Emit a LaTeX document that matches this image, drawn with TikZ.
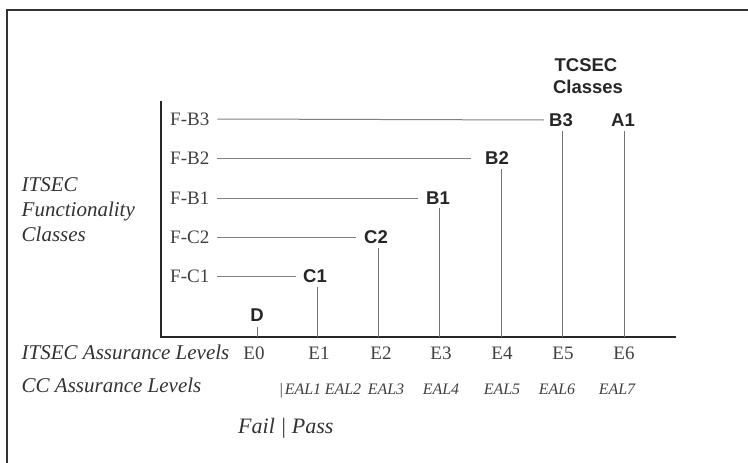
\documentclass[tikz,border=0pt]{standalone}
\usepackage{fontspec}
\setmainfont{Liberation Serif}
\setsansfont{Liberation Sans}
\begin{document}
\begin{tikzpicture}[x=1pt,y=-1pt,
  frame/.style={line width=2.5pt, draw=black!80},
  axis/.style={line width=2.2pt, draw=black!85, line cap=rect},
  hline/.style={line width=1pt, draw=black!50},
  vline/.style={line width=0.9pt, draw=black!55},
  cls/.style={font=\sffamily\bfseries\fontsize{18.5}{20}\selectfont, text=black!85, inner sep=0pt, text height=13.2pt, text depth=0pt},
  fcl/.style={font=\fontsize{19}{20}\selectfont, text=black!75, inner sep=0pt, text height=12.5pt, text depth=0pt},
  itl/.style={font=\itshape\fontsize{21}{22}\selectfont, text=black!80, inner sep=0pt, text height=13.9pt, text depth=0pt},
  eal/.style={font=\itshape\fontsize{16}{17}\selectfont, text=black!75, inner sep=0pt, text height=10.6pt, text depth=0pt},
  fp/.style={font=\itshape\fontsize{22}{23}\selectfont, text=black!80, inner sep=0pt, text height=14.5pt, text depth=0pt}
]
\useasboundingbox (0,0) rectangle (748,463);
\fill[white] (0,0) rectangle (748,463);
% frame
\draw[frame] (7,463) -- (7,10) -- (748,10);

% axes
\coordinate (ytop) at (161,102);
\coordinate (O) at (161,337);
\coordinate (xend) at (675,337);
\draw[axis] (ytop) -- (O) -- (xend);

% tick positions
\coordinate (t0) at (257,337);
\coordinate (t1) at (317,337);
\coordinate (t2) at (378,337);
\coordinate (t3) at (439,337);
\coordinate (t4) at (501,337);
\coordinate (t5) at (562,337);
\coordinate (t6) at (624.5,337);

% TCSEC header
\node[cls] (tcsec) at (586,65) {TCSEC};
\node[cls] (tclasses) at (588,87) {Classes};

% ITSEC functionality
\node[itl, anchor=west] (itsec) at (21.5,185) {ITSEC};
\node[itl, anchor=west] (func) at (21.5,210) {Functionality};
\node[itl, anchor=west] (fclasses) at (21.5,235) {Classes};

% row labels
\node[fcl, anchor=west] (fb3) at (170,119) {F-B3};
\node[fcl, anchor=west] (fb2) at (170,158) {F-B2};
\node[fcl, anchor=west] (fb1) at (170,198) {F-B1};
\node[fcl, anchor=west] (fc2) at (170,237) {F-C2};
\node[fcl, anchor=west] (fc1) at (170,276) {F-C1};

% TCSEC classes
\node[cls] (b3) at (561,120) {B3};
\node[cls] (a1) at (623,120) {A1};
\node[cls] (b2) at (497,158) {B2};
\node[cls] (b1) at (438,198) {B1};
\node[cls] (c2) at (376,237) {C2};
\node[cls] (c1) at (315,276) {C1};
\node[cls] (d) at (257,315) {D};

% horizontal lines
\draw[hline] ([xshift=8pt]fb3.east) -- ([xshift=-5pt]b3.west);
\draw[hline] ([xshift=8pt]fb2.east) -- ([xshift=-14pt]b2.west);
\draw[hline] ([xshift=8pt]fb1.east) -- ([xshift=-8pt]b1.west);
\draw[hline] ([xshift=8pt]fc2.east) -- ([xshift=-8pt]c2.west);
\draw[hline] ([xshift=8pt]fc1.east) -- ([xshift=-7pt]c1.west);

% vertical lines
\draw[vline, shorten <=4pt] (t5 |- b3.south) -- (t5);
\draw[vline, shorten <=4pt] (t6 |- a1.south) -- (t6);
\draw[vline, shorten <=4pt] (t4 |- b2.south) -- (t4);
\draw[vline, shorten <=3pt] (t3 |- b1.south) -- (t3);
\draw[vline, shorten <=4pt] (t2 |- c2.south) -- (t2);
\draw[vline, shorten <=4pt] (t1 |- c1.south) -- (t1);
\draw[vline, shorten <=5pt] (t0 |- d.south) -- (t0);

% ITSEC assurance levels
\node[itl, anchor=west] (ial) at (21.5,353) {ITSEC Assurance Levels};
\node[fcl] (e0) at (254,353) {E0};
\node[fcl] (e1) at (319,353) {E1};
\node[fcl] (e2) at (381,353) {E2};
\node[fcl] (e3) at (441,353) {E3};
\node[fcl] (e4) at (502,353) {E4};
\node[fcl] (e5) at (563,353) {E5};
\node[fcl] (e6) at (624,353) {E6};

% CC assurance levels
\node[itl, anchor=west] (ccl) at (21.5,386) {CC Assurance Levels};
\node[eal] (bar) at (281,389) {|};
\node[eal] (eal1) at (303,389) {EAL1};
\node[eal] (eal2) at (343,389) {EAL2};
\node[eal] (eal3) at (386,389) {EAL3};
\node[eal] (eal4) at (441,389) {EAL4};
\node[eal] (eal5) at (502,389) {EAL5};
\node[eal] (eal6) at (557,389) {EAL6};
\node[eal] (eal7) at (617,389) {EAL7};

% Fail | Pass
\node[fp, anchor=west] (failpass) at (238,426) {Fail | Pass};
\end{tikzpicture}
\end{document}
